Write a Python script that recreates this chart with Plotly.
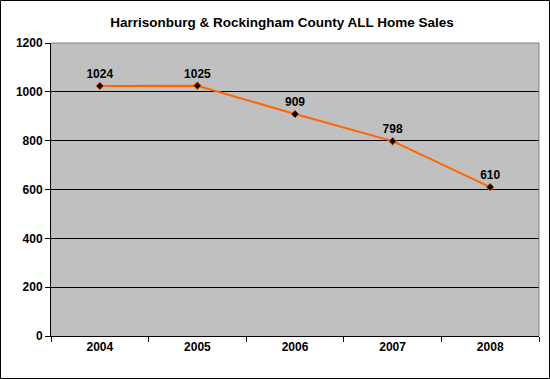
import plotly.graph_objects as go

years = ["2004", "2005", "2006", "2007", "2008"]
sales = [1024, 1025, 909, 798, 610]
y_ticks = [0, 200, 400, 600, 800, 1000, 1200]

W, H = 550, 379
L, R, T, B = 51, 11, 43, 43
pw, ph = W - L - R, H - T - B
FONT = "Liberation Sans, Arial"

fig = go.Figure()
fig.add_trace(go.Scatter(
    x=years, y=sales, mode="lines+markers+text",
    line=dict(color="#FF6600", width=2),
    marker=dict(symbol="diamond", size=6, color="black", line=dict(color="#FF6600", width=1)),
    text=[str(v) for v in sales], textposition="top center",
    textfont=dict(family=FONT, size=12, color="black", weight="bold"),
    cliponaxis=False, hoverinfo="skip",
))

fig.update_layout(
    width=W, height=H,
    margin=dict(l=L, r=R, t=T, b=B),
    paper_bgcolor="white", plot_bgcolor="#C0C0C0",
    showlegend=False,
    title=dict(text="<b>Harrisonburg & Rockingham County ALL Home Sales</b>",
               x=282 / W, xanchor="center", y=1 - 22 / H, yanchor="middle",
               font=dict(family=FONT, size=13.5, color="black")),
    xaxis=dict(type="category", range=[-0.5, 4.5], showgrid=False,
               showline=True, linecolor="black", linewidth=1,
               ticks="outside", tickson="boundaries", ticklen=5, tickcolor="black",
               tickfont=dict(family=FONT, size=12, color="black", weight="bold"),
               zeroline=False),
    yaxis=dict(range=[0, 1200], tickvals=y_ticks, showgrid=True, gridcolor="black", gridwidth=1,
               showline=True, linecolor="black", linewidth=1,
               ticks="outside", ticklen=5, tickcolor="black",
               tickfont=dict(family=FONT, size=12, color="black", weight="bold"),
               zeroline=False),
    shapes=[
        dict(type="line", xref="paper", yref="paper", x0=0, x1=1, y0=1, y1=1,
             line=dict(color="#808080", width=1)),
        dict(type="line", xref="paper", yref="paper", x0=1, x1=1, y0=0, y1=1,
             line=dict(color="#808080", width=1)),
        dict(type="rect", xref="paper", yref="paper",
             x0=(-L + 0.5) / pw, x1=(pw + R - 0.5) / pw,
             y0=(-B + 0.5) / ph, y1=(ph + T - 0.5) / ph,
             line=dict(color="black", width=1)),
    ],
)

fig.write_html("out.html", config={"displayModeBar": False, "staticPlot": True},
               post_script="document.body.style.margin='0';document.body.style.overflow='hidden';")
